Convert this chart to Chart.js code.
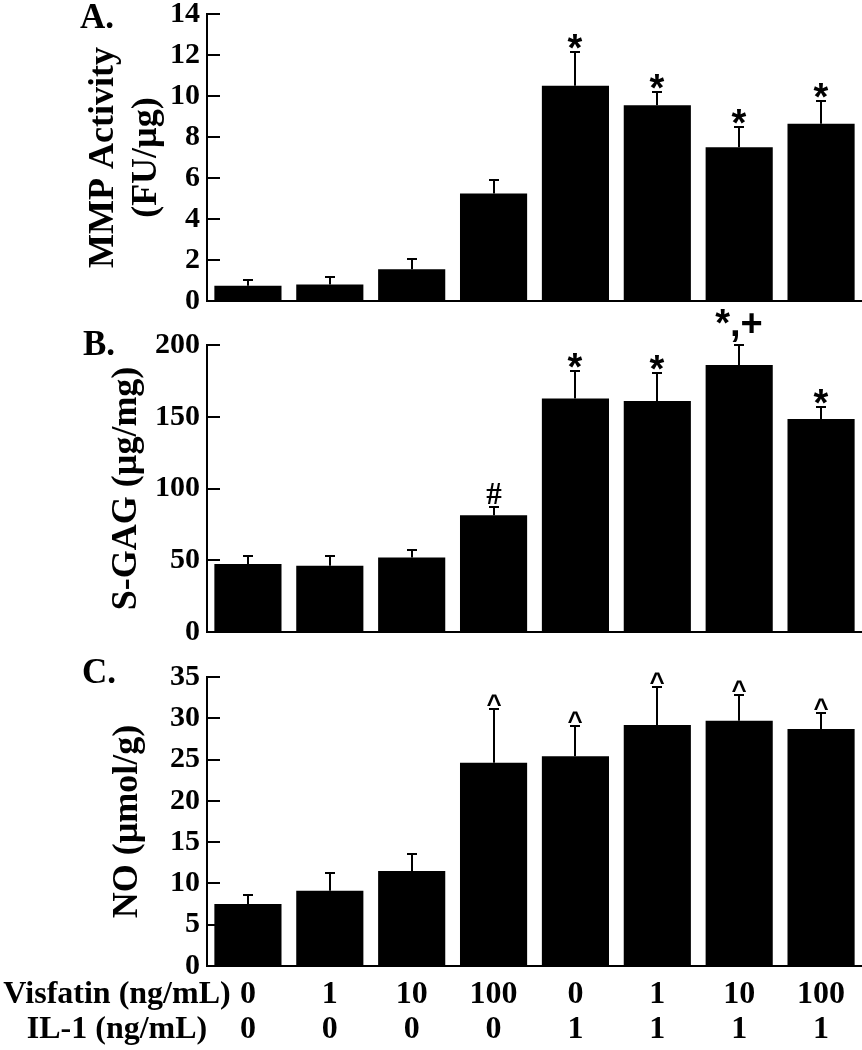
<!DOCTYPE html>
<html><head><meta charset="utf-8">
<script src="https://cdn.jsdelivr.net/npm/chart.js@4.4.1/dist/chart.umd.min.js"></script>
<style>
html,body{margin:0;padding:0;background:#fff;width:862px;height:1050px;overflow:hidden;}
canvas{position:absolute;left:0;}
</style></head><body>
<canvas id="cA" width="862" height="320" style="top:0px"></canvas>
<canvas id="cB" width="862" height="350" style="top:300px"></canvas>
<canvas id="cC" width="862" height="410" style="top:640px"></canvas>
<script>
// ---- data ----
const visfatinLabels = ['0','1','10','100','0','1','10','100'];
const il1Labels      = ['0','0','0','0','1','1','1','1'];
const categories = visfatinLabels.map((v, i) => [v, il1Labels[i]]);

const mmpMean  = [0.75, 0.8, 1.55, 5.25, 10.5, 9.55, 7.5, 8.65];
const mmpSem   = [0.26, 0.35, 0.5, 0.65, 1.65, 0.65, 1.0, 1.1];
const mmpMarks = ['', '', '', '', '*', '*', '*', '*'];

const gagMean  = [47.4, 46.2, 52.0, 81.3, 162.8, 161.0, 186.1, 148.4];
const gagSem   = [5.8, 7.0, 5.4, 5.8, 18.8, 19.5, 14.1, 8.4];
const gagMarks = ['', '', '', '#', '*', '*', '*,+', '*'];

const noMean   = [7.5, 9.1, 11.5, 24.6, 25.4, 29.2, 29.7, 28.7];
const noSem    = [1.05, 2.17, 2.02, 6.48, 3.68, 4.55, 3.15, 1.97];
const noMarks  = ['', '', '', '^', '^', '^', '^', '^'];

const FONT = "'Liberation Serif', 'Times New Roman', Times, serif";
const SANS = "'Liberation Sans', Arial, sans-serif";

function markFont(m) {
  if (m.indexOf('#') >= 0) return 'bold 31px ' + FONT;
  if (m === '^') return 'bold 26px ' + SANS;
  return 'bold 38px ' + SANS;
}

function errorBars(sem, marks) {
  return {
    id: 'errorBars',
    afterDatasetsDraw(chart) {
      const ctx = chart.ctx, meta = chart.getDatasetMeta(0), y = chart.scales.y;
      const data = chart.data.datasets[0].data;
      ctx.save();
      ctx.strokeStyle = '#000'; ctx.fillStyle = '#000'; ctx.lineWidth = 2;
      data.forEach((v, i) => {
        const bar = meta.data[i];
        const x = Math.round(bar.x);
        const top = Math.round(y.getPixelForValue(v + sem[i]));
        ctx.beginPath();
        ctx.moveTo(x, bar.y); ctx.lineTo(x, top);
        ctx.moveTo(x - 5, top); ctx.lineTo(x + 5, top);
        ctx.stroke();
        const m = marks[i];
        if (m) {
          ctx.font = markFont(m);
          ctx.textAlign = 'center'; ctx.textBaseline = 'alphabetic';
          const mt = ctx.measureText(m);
          ctx.fillText(m, x, top - 3 - mt.actualBoundingBoxDescent);
        }
      });
      ctx.restore();
    }
  };
}

function panelLetter(text, x, y) {
  return {
    id: 'panelLetter',
    afterDraw(chart) {
      const ctx = chart.ctx;
      ctx.save();
      ctx.font = 'bold 35px ' + FONT; ctx.fillStyle = '#000';
      ctx.textAlign = 'left'; ctx.textBaseline = 'alphabetic';
      ctx.fillText(text, x, y);
      ctx.restore();
    }
  };
}

const rowLabels = {
  id: 'rowLabels',
  afterDraw(chart) {
    const ctx = chart.ctx, xs = chart.scales.x;
    const lh = 32 * 1.1;
    ctx.save();
    ctx.font = 'bold 32px ' + FONT; ctx.fillStyle = '#000';
    ctx.textAlign = 'center'; ctx.textBaseline = 'middle';
    ctx.fillText('Visfatin (ng/mL)', 117, xs.top + 11 + lh * 0.5);
    ctx.fillText('IL-1 (ng/mL)', 117, xs.top + 11 + lh * 1.5);
    ctx.restore();
  }
};

function yAxis(max, step, title, titlePad) {
  return {
    min: 0, max: max,
    ticks: { stepSize: step, color: '#000', padding: 20,
             font: { family: FONT, size: 30, weight: 'bold' } },
    grid: { display: true, drawOnChartArea: false, drawTicks: true, tickLength: -13,
            color: '#000', lineWidth: 2 },
    border: { display: true, color: '#000', width: 2 },
    title: { display: true, text: title, color: '#000',
             font: { family: FONT, size: 36, weight: 'bold', lineHeight: 1.2 },
             padding: { top: titlePad, bottom: 0 } },
    afterFit(s) { s.width = 207; s.paddingTop = 0; s.paddingBottom = 0; }
  };
}

function xAxis(showLabels) {
  return {
    offset: true,
    grid: { display: false, drawTicks: false, tickLength: 0 },
    border: { display: true, color: '#000', width: 2 },
    ticks: { display: showLabels, color: '#000', padding: 11, autoSkip: false, maxRotation: 0,
             font: { family: FONT, size: 32, weight: 'bold', lineHeight: 1.1 } },
    afterFit(s) { s.height = showLabels ? 80 : 0; s.paddingLeft = 0; s.paddingRight = 0; }
  };
}

function makeChart(id, mean, sem, marks, yCfg, pad, showLabels, plugins) {
  return new Chart(document.getElementById(id), {
    type: 'bar',
    data: { labels: categories,
            datasets: [{ data: mean, backgroundColor: '#000', borderWidth: 0,
                         categoryPercentage: 1.0, barPercentage: 0.82 }] },
    options: {
      responsive: false, animation: false, devicePixelRatio: 1,
      layout: { padding: pad },
      plugins: { legend: { display: false }, tooltip: { enabled: false } },
      scales: { x: xAxis(showLabels), y: yCfg }
    },
    plugins: [errorBars(sem, marks)].concat(plugins)
  });
}

// panel A: plot area y 14..301 on the page
makeChart('cA', mmpMean, mmpSem, mmpMarks,
  yAxis(14, 2, ['MMP Activity', '(FU/\u00b5g)'], 82),
  { top: 14, bottom: 19, left: 0, right: 0 }, false, [panelLetter('A.', 80, 28)]);

// panel B: canvas top 300, plot area y 345..632 on the page
makeChart('cB', gagMean, gagSem, gagMarks,
  yAxis(200, 50, 'S-GAG (\u00b5g/mg)', 105),
  { top: 45, bottom: 18, left: 0, right: 0 }, false, [panelLetter('B.', 83, 55)]);

// panel C: canvas top 640, plot area y 677..966 on the page
makeChart('cC', noMean, noSem, noMarks,
  yAxis(35, 5, 'NO (\u00b5mol/g)', 106),
  { top: 37, bottom: 4, left: 0, right: 0 }, true, [panelLetter('C.', 82, 43), rowLabels]);
</script>
</body></html>
